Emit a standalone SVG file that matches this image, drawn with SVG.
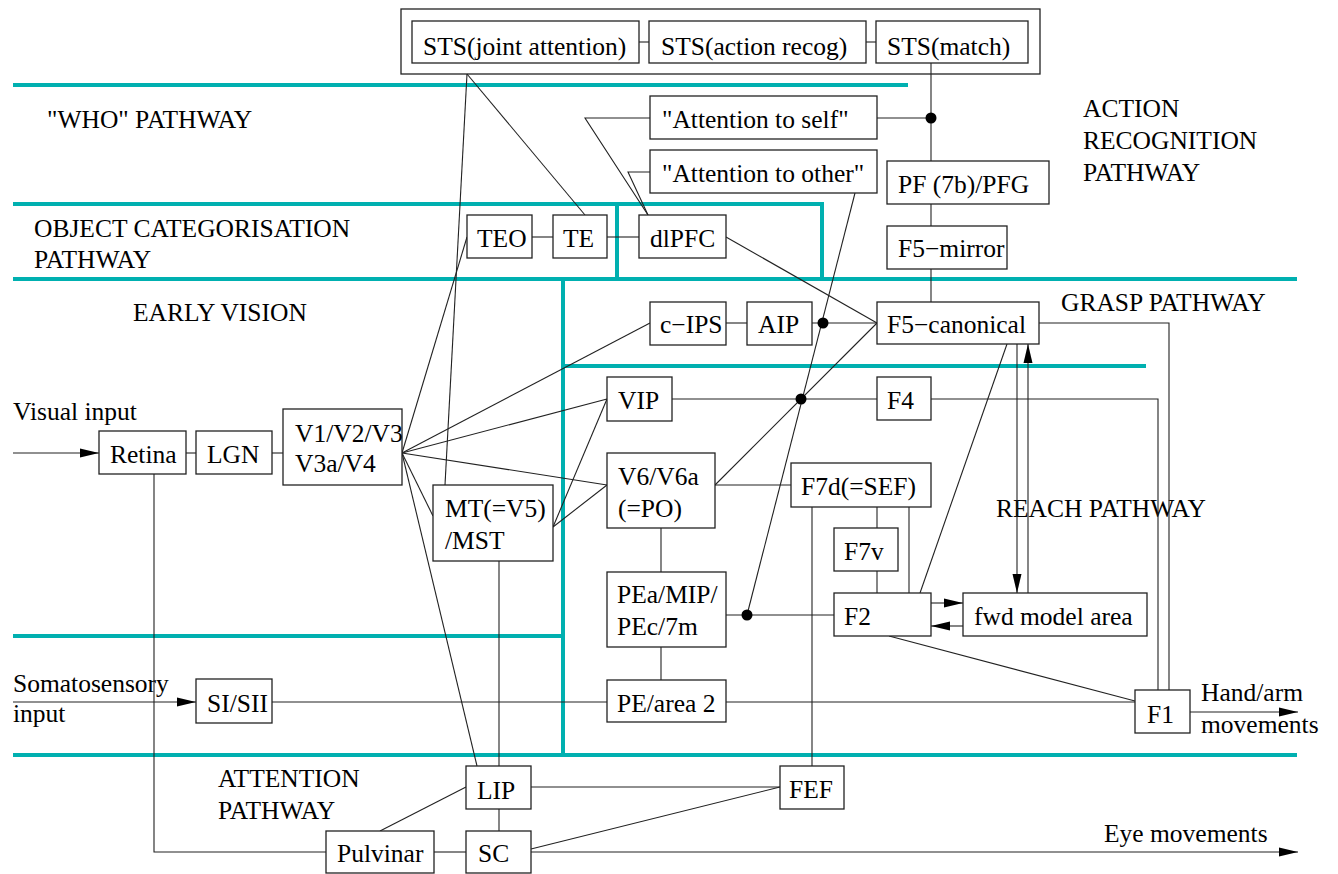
<svg xmlns="http://www.w3.org/2000/svg" width="1338" height="874" viewBox="0 0 1338 874">
  <style>
    text { font-family: "Liberation Serif", "Times New Roman", Times, "Nimbus Roman", "DejaVu Serif", serif; font-size: 25.5px; fill: #000; }
    .box { fill: #fff; stroke: #222; stroke-width: 1.3; }
    .frame { fill: none; stroke: #222; stroke-width: 1.3; }
    .ln { fill: none; stroke: #222; stroke-width: 1.1; }
    .band { fill: none; stroke: #00b0b0; stroke-width: 4; }
    .dot { fill: #000; }
  </style>
  <defs>
    <marker id="arrow" viewBox="0 0 19 10" refX="19" refY="5" markerWidth="19" markerHeight="10" markerUnits="userSpaceOnUse" orient="auto">
      <path d="M0,0.5 L19,5 L0,9.5 Z" fill="#000"/>
    </marker>
  </defs>

  <rect width="1338" height="874" fill="#fff"/>

  <!-- pathway separators -->
  <g id="bands">
    <line class="band" x1="13" y1="85" x2="908" y2="85"/>
    <line class="band" x1="13" y1="204" x2="824" y2="204"/>
    <line class="band" x1="617" y1="204" x2="617" y2="279"/>
    <line class="band" x1="822" y1="204" x2="822" y2="279"/>
    <line class="band" x1="13" y1="279" x2="1297" y2="279"/>
    <line class="band" x1="563" y1="279" x2="563" y2="756"/>
    <line class="band" x1="563" y1="366" x2="1146" y2="366"/>
    <line class="band" x1="13" y1="636" x2="563" y2="636"/>
    <line class="band" x1="13" y1="755" x2="1297" y2="755"/>
  </g>

  <!-- pathway labels -->
  <g id="labels" font-family="'Liberation Serif', 'DejaVu Serif', serif">
    <text x="47" y="128">"WHO" PATHWAY</text>
    <text x="34" y="237">OBJECT CATEGORISATION</text>
    <text x="34" y="268">PATHWAY</text>
    <text x="133" y="321">EARLY VISION</text>
    <text x="1083" y="117">ACTION</text>
    <text x="1083" y="149">RECOGNITION</text>
    <text x="1083" y="181">PATHWAY</text>
    <text x="1061" y="311">GRASP PATHWAY</text>
    <text x="996" y="517">REACH PATHWAY</text>
    <text x="218" y="787">ATTENTION</text>
    <text x="218" y="819">PATHWAY</text>
    <text x="13" y="420">Visual input</text>
    <text x="13" y="692">Somatosensory</text>
    <text x="13" y="722">input</text>
    <text x="1201" y="701">Hand/arm</text>
    <text x="1201" y="733">movements</text>
    <text x="1104" y="842">Eye movements</text>
  </g>

  <!-- connectors -->
  <g id="connectors">
    <!-- inputs and outputs -->
    <line class="ln" x1="13" y1="453" x2="99" y2="453" marker-end="url(#arrow)"/>
    <line class="ln" x1="13" y1="702" x2="196" y2="702" marker-end="url(#arrow)"/>
    <line class="ln" x1="1190" y1="712" x2="1298" y2="712" marker-end="url(#arrow)"/>
    <line class="ln" x1="531" y1="852" x2="1298" y2="852" marker-end="url(#arrow)"/>

    <!-- STS row -->
    <line class="ln" x1="639" y1="42" x2="649" y2="42"/>
    <line class="ln" x1="866" y1="42" x2="876" y2="42"/>
    <line class="ln" x1="931" y1="63" x2="931" y2="161"/>
    <line class="ln" x1="931" y1="204" x2="931" y2="226"/>
    <line class="ln" x1="931" y1="269" x2="931" y2="302"/>
    <line class="ln" x1="877" y1="118" x2="931" y2="118"/>
    <line class="ln" x1="467" y1="74" x2="445" y2="485"/>
    <line class="ln" x1="467" y1="74" x2="585" y2="215"/>

    <!-- attention to self / other to dlPFC -->
    <polyline class="ln" points="650,118 585,118 648,215"/>
    <polyline class="ln" points="650,172 628,172 648,215"/>
    <line class="ln" x1="855" y1="193" x2="747" y2="615"/>

    <!-- ventral chain -->
    <line class="ln" x1="532" y1="237" x2="553" y2="237"/>
    <line class="ln" x1="607" y1="237" x2="639" y2="237"/>
    <line class="ln" x1="726" y1="237" x2="877" y2="323"/>

    <!-- early vision -->
    <line class="ln" x1="186" y1="453" x2="196" y2="453"/>
    <line class="ln" x1="272" y1="453" x2="283" y2="453"/>
    <polyline class="ln" points="154,474 154,852 326,852"/>
    <line class="ln" x1="402" y1="453" x2="467" y2="237"/>
    <line class="ln" x1="402" y1="453" x2="650" y2="323"/>
    <line class="ln" x1="402" y1="453" x2="607" y2="399"/>
    <line class="ln" x1="402" y1="453" x2="607" y2="485"/>
    <line class="ln" x1="402" y1="453" x2="433" y2="516"/>
    <line class="ln" x1="402" y1="453" x2="477" y2="766"/>
    <line class="ln" x1="553" y1="527" x2="607" y2="399"/>
    <line class="ln" x1="553" y1="527" x2="607" y2="485"/>
    <line class="ln" x1="499" y1="561" x2="499" y2="766"/>
    <line class="ln" x1="499" y1="809" x2="499" y2="831"/>

    <!-- grasp -->
    <line class="ln" x1="726" y1="323" x2="747" y2="323"/>
    <line class="ln" x1="812" y1="323" x2="877" y2="323"/>
    <polyline class="ln" points="1039,323 1169,323 1169,690"/>
    <line class="ln" x1="1017" y1="344" x2="1017" y2="593" marker-end="url(#arrow)"/>
    <line class="ln" x1="1028" y1="593" x2="1028" y2="344" marker-end="url(#arrow)"/>
    <line class="ln" x1="1007" y1="344" x2="920" y2="593"/>

    <!-- reach -->
    <line class="ln" x1="672" y1="399" x2="877" y2="399"/>
    <polyline class="ln" points="931,399 1158,399 1158,690"/>
    <line class="ln" x1="715" y1="485" x2="877" y2="323"/>
    <line class="ln" x1="715" y1="485" x2="791" y2="485"/>
    <line class="ln" x1="661" y1="527" x2="661" y2="572"/>
    <line class="ln" x1="661" y1="647" x2="661" y2="680"/>
    <line class="ln" x1="726" y1="615" x2="834" y2="615"/>
    <line class="ln" x1="877" y1="507" x2="877" y2="528"/>
    <line class="ln" x1="877" y1="571" x2="877" y2="593"/>
    <line class="ln" x1="909" y1="507" x2="909" y2="593"/>
    <line class="ln" x1="812" y1="507" x2="812" y2="766"/>
    <line class="ln" x1="931" y1="603" x2="963" y2="603" marker-end="url(#arrow)"/>
    <line class="ln" x1="963" y1="626" x2="931" y2="626" marker-end="url(#arrow)"/>
    <line class="ln" x1="889" y1="636" x2="1135" y2="701"/>
    <line class="ln" x1="272" y1="702" x2="607" y2="702"/>
    <line class="ln" x1="726" y1="702" x2="1135" y2="702"/>

    <!-- attention -->
    <line class="ln" x1="380" y1="831" x2="466" y2="787"/>
    <line class="ln" x1="434" y1="852" x2="466" y2="852"/>
    <line class="ln" x1="531" y1="787" x2="780" y2="787"/>
    <line class="ln" x1="531" y1="849" x2="780" y2="787"/>

    <!-- junctions -->
    <circle class="dot" cx="931" cy="118" r="5.5"/>
    <circle class="dot" cx="823" cy="323" r="5.5"/>
    <circle class="dot" cx="801" cy="399" r="5.5"/>
    <circle class="dot" cx="747" cy="615" r="5.5"/>
  </g>

  <!-- nodes -->
  <rect id="sts-frame" class="frame" x="401" y="9" width="639" height="65"/>
  <g id="sts-joint"><rect class="box" x="412" y="21" width="227" height="42"/><text x="423" y="55">STS(joint attention)</text></g>
  <g id="sts-action"><rect class="box" x="649" y="21" width="217" height="42"/><text x="661" y="55">STS(action recog)</text></g>
  <g id="sts-match"><rect class="box" x="876" y="21" width="152" height="42"/><text x="887" y="55">STS(match)</text></g>
  <g id="att-self"><rect class="box" x="650" y="96" width="227" height="43"/><text x="662" y="128">"Attention to self"</text></g>
  <g id="att-other"><rect class="box" x="650" y="150" width="227" height="43"/><text x="662" y="182">"Attention to other"</text></g>
  <g id="pf"><rect class="box" x="887" y="161" width="162" height="43"/><text x="898" y="193">PF (7b)/PFG</text></g>
  <g id="f5-mirror"><rect class="box" x="887" y="226" width="120" height="43"/><text x="898" y="257">F5−mirror</text></g>
  <g id="teo"><rect class="box" x="467" y="215" width="65" height="43"/><text x="477" y="247">TEO</text></g>
  <g id="te"><rect class="box" x="553" y="215" width="54" height="43"/><text x="563" y="247">TE</text></g>
  <g id="dlpfc"><rect class="box" x="639" y="215" width="87" height="43"/><text x="650" y="247">dlPFC</text></g>
  <g id="c-ips"><rect class="box" x="650" y="302" width="76" height="43"/><text x="660" y="333">c−IPS</text></g>
  <g id="aip"><rect class="box" x="747" y="302" width="65" height="43"/><text x="758" y="333">AIP</text></g>
  <g id="f5-canonical"><rect class="box" x="877" y="302" width="162" height="42"/><text x="887" y="333">F5−canonical</text></g>
  <g id="retina"><rect class="box" x="99" y="431" width="87" height="43"/><text x="110" y="463">Retina</text></g>
  <g id="lgn"><rect class="box" x="196" y="431" width="76" height="43"/><text x="207" y="463">LGN</text></g>
  <g id="v1"><rect class="box" x="283" y="409" width="119" height="76"/><text x="295" y="442">V1/V2/V3</text><text x="295" y="472">V3a/V4</text></g>
  <g id="mt"><rect class="box" x="433" y="485" width="120" height="76"/><text x="445" y="517">MT(=V5)</text><text x="445" y="549">/MST</text></g>
  <g id="vip"><rect class="box" x="607" y="377" width="65" height="44"/><text x="618" y="409">VIP</text></g>
  <g id="f4"><rect class="box" x="877" y="377" width="54" height="43"/><text x="887" y="409">F4</text></g>
  <g id="v6"><rect class="box" x="607" y="453" width="108" height="75"/><text x="618" y="485">V6/V6a</text><text x="618" y="517">(=PO)</text></g>
  <g id="f7d"><rect class="box" x="791" y="463" width="140" height="44"/><text x="801" y="495">F7d(=SEF)</text></g>
  <g id="f7v"><rect class="box" x="834" y="528" width="64" height="43"/><text x="844" y="560">F7v</text></g>
  <g id="pea"><rect class="box" x="607" y="572" width="119" height="75"/><text x="617" y="603">PEa/MIP/</text><text x="617" y="635">PEc/7m</text></g>
  <g id="f2"><rect class="box" x="834" y="593" width="97" height="43"/><text x="844" y="625">F2</text></g>
  <g id="fwd-model"><rect class="box" x="963" y="593" width="184" height="43"/><text x="974" y="625">fwd model area</text></g>
  <g id="si-sii"><rect class="box" x="196" y="679" width="76" height="44"/><text x="207" y="712">SI/SII</text></g>
  <g id="pe"><rect class="box" x="607" y="680" width="119" height="42"/><text x="617" y="712">PE/area 2</text></g>
  <g id="f1"><rect class="box" x="1135" y="690" width="55" height="43"/><text x="1147" y="723">F1</text></g>
  <g id="lip"><rect class="box" x="466" y="766" width="65" height="43"/><text x="477" y="799">LIP</text></g>
  <g id="fef"><rect class="box" x="780" y="766" width="64" height="43"/><text x="789" y="798">FEF</text></g>
  <g id="pulvinar"><rect class="box" x="326" y="831" width="108" height="42"/><text x="337" y="862">Pulvinar</text></g>
  <g id="sc"><rect class="box" x="466" y="831" width="65" height="42"/><text x="478" y="862">SC</text></g>
</svg>
